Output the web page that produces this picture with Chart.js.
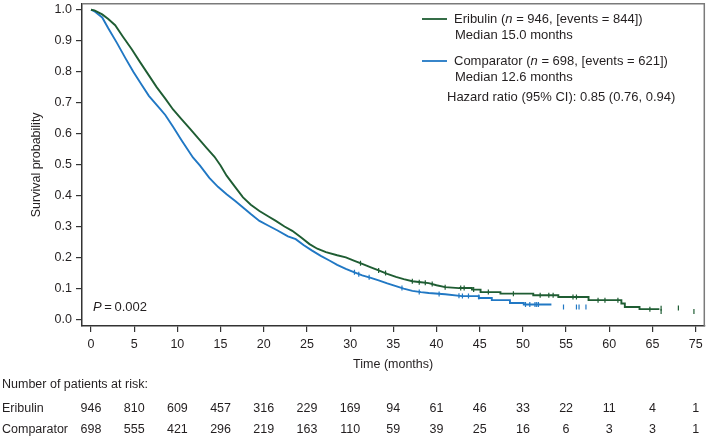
<!DOCTYPE html>
<html>
<head>
<meta charset="utf-8">
<script src="https://cdn.jsdelivr.net/npm/chart.js@4.4.1/dist/chart.umd.min.js"></script>
<style>
html,body{margin:0;padding:0;background:#fff;}
#wrap{width:708px;height:436px;}
</style>
</head>
<body>
<div id="wrap"><canvas id="c" width="708" height="436"></canvas></div>
<script>
// ---------- data ----------
const eribulinTime = [0, 0.4, 1.3, 2.0, 2.8, 3.7, 4.7, 5.7, 6.7, 7.6, 8.6, 9.5, 10.5, 11.5, 12.4, 13.4, 14.3, 15.0, 15.7, 16.7, 17.6, 18.5, 19.5, 20.5, 21.4, 22.4, 23.3, 24.3, 25.3, 26.2, 27.2, 28.5, 29.5, 30.5, 31.4, 32.4, 33.3, 34.3, 35.3, 36.2, 37.2, 38.2, 39.1, 40.0, 41.0, 42.6, 44.1, 44.1, 45.1, 45.1, 47.4, 47.4, 51.2, 51.2, 54.1, 54.1, 57.6, 57.6, 61.4, 61.4, 61.8, 61.8, 63.5, 63.5, 65.8];
const eribulinSurv = [1.0, 0.998, 0.985, 0.970, 0.950, 0.913, 0.873, 0.830, 0.788, 0.750, 0.713, 0.678, 0.646, 0.614, 0.585, 0.553, 0.525, 0.497, 0.464, 0.427, 0.394, 0.370, 0.350, 0.333, 0.318, 0.300, 0.286, 0.265, 0.243, 0.228, 0.217, 0.207, 0.200, 0.189, 0.179, 0.168, 0.158, 0.147, 0.137, 0.130, 0.123, 0.120, 0.117, 0.110, 0.104, 0.101, 0.101, 0.096, 0.096, 0.088, 0.088, 0.083, 0.083, 0.078, 0.078, 0.072, 0.072, 0.062, 0.062, 0.051, 0.051, 0.040, 0.040, 0.033, 0.033];

const comparatorTime = [0, 0.4, 1.3, 2.0, 3.0, 4.0, 4.9, 5.9, 6.7, 8.0, 8.6, 9.5, 10.5, 11.8, 12.6, 13.7, 14.7, 15.7, 16.7, 17.6, 18.5, 19.5, 20.5, 21.6, 22.8, 23.7, 24.6, 25.6, 26.6, 27.6, 28.5, 29.5, 30.5, 31.4, 32.4, 33.3, 34.3, 35.3, 36.2, 37.2, 38.2, 39.1, 41.0, 42.95, 44.9, 44.9, 46.4, 46.4, 48.5, 48.5, 50.1, 50.1, 53.3];
const comparatorSurv = [1.0, 0.995, 0.975, 0.940, 0.893, 0.843, 0.800, 0.756, 0.722, 0.680, 0.660, 0.622, 0.578, 0.523, 0.497, 0.457, 0.428, 0.404, 0.382, 0.361, 0.340, 0.318, 0.303, 0.287, 0.268, 0.259, 0.240, 0.222, 0.205, 0.190, 0.176, 0.163, 0.152, 0.142, 0.134, 0.126, 0.116, 0.107, 0.099, 0.092, 0.088, 0.085, 0.081, 0.075, 0.075, 0.069, 0.069, 0.062, 0.062, 0.053, 0.053, 0.048, 0.048];

const eribulinCensorTime = [31.2, 33.3, 34.1, 37.2, 38.0, 38.7, 39.5, 41.0, 42.8, 43.2, 44.3, 46.0, 48.9, 52.0, 53.0, 53.5, 55.8, 56.2, 58.7, 59.5, 61.0, 64.7, 66.0, 66.0, 68.0, 69.8];
const eribulinCensorSurv = [0.181, 0.158, 0.150, 0.123, 0.120, 0.118, 0.114, 0.104, 0.101, 0.101, 0.096, 0.088, 0.083, 0.078, 0.078, 0.078, 0.072, 0.072, 0.062, 0.062, 0.062, 0.033, 0.036, 0.025, 0.037, 0.025];
const comparatorCensorTime = [30.5, 31.0, 32.2, 36.0, 38.0, 40.3, 42.6, 43.0, 43.7, 44.9, 50.3, 50.8, 51.4, 51.6, 51.8, 54.7, 56.2, 56.5, 57.3];
const comparatorCensorSurv = [0.152, 0.146, 0.136, 0.101, 0.088, 0.082, 0.076, 0.075, 0.075, 0.072, 0.048, 0.048, 0.048, 0.048, 0.048, 0.040, 0.040, 0.040, 0.040];

const xTickValues = [0, 5, 10, 15, 20, 25, 30, 35, 40, 45, 50, 55, 60, 65, 70];
const xTickLabels = ['0', '5', '10', '15', '20', '25', '30', '35', '40', '45', '50', '55', '60', '65', '75'];
const yTickValues = [0, 0.1, 0.2, 0.3, 0.4, 0.5, 0.6, 0.7, 0.8, 0.9, 1.0];

const riskTimes = [0, 5, 10, 15, 20, 25, 30, 35, 40, 45, 50, 55, 60, 65, 70];
const eribulinAtRisk = [946, 810, 609, 457, 316, 229, 169, 94, 61, 46, 33, 22, 11, 4, 1];
const comparatorAtRisk = [698, 555, 421, 296, 219, 163, 110, 59, 39, 25, 16, 6, 3, 3, 1];

const seriesNames = ['Eribulin', 'Comparator'];
// ---------- styling ----------
const GREEN = '#1f5d33';
const BLUE = '#2178c4';
const TXT = '#231f20';
const AX = '#333333';
const FONT = '"Liberation Sans", Arial, Helvetica, sans-serif';
const FS = 12.5;
const LFS = 13;

Chart.defaults.font.family = FONT;
Chart.defaults.font.size = FS;
Chart.defaults.color = TXT;

const pts = (xs, ys) => xs.map((x, i) => ({x: x, y: ys[i]}));

function rich(ctx, x, y, parts, size) {
  for (const p of parts) {
    ctx.font = (p.it ? 'italic ' : '') + size + 'px ' + FONT;
    ctx.fillText(p.t, x, y);
    x += ctx.measureText(p.t).width;
  }
}

const annotations = {
  id: 'annotations',
  afterDraw(chart) {
    const ctx = chart.ctx;
    const a = chart.chartArea;
    const xs = chart.scales.x;
    ctx.save();
    // frame top and right
    ctx.strokeStyle = '#7a7a7a';
    ctx.lineWidth = 1.5;
    ctx.beginPath();
    ctx.moveTo(a.left, a.top);
    ctx.lineTo(a.right, a.top);
    ctx.lineTo(a.right, a.bottom);
    ctx.stroke();

    ctx.fillStyle = TXT;
    ctx.textBaseline = 'middle';
    ctx.textAlign = 'left';
    // legend
    ctx.lineWidth = 1.8;
    ctx.strokeStyle = GREEN;
    ctx.beginPath(); ctx.moveTo(422, 19); ctx.lineTo(447, 19); ctx.stroke();
    ctx.strokeStyle = BLUE;
    ctx.beginPath(); ctx.moveTo(422, 61); ctx.lineTo(447, 61); ctx.stroke();
    const es = ' ';
    const th = '\u2009';
    rich(ctx, 454, 19, [{t: seriesNames[0] + ' ('}, {t: 'n', it: true}, {t: es + '=' + es + '946, [events' + es + '=' + es + '844])'}], LFS);
    rich(ctx, 455, 35, [{t: 'Median 15.0 months'}], LFS);
    rich(ctx, 454, 61, [{t: seriesNames[1] + ' ('}, {t: 'n', it: true}, {t: es + '=' + es + '698, [events' + es + '=' + es + '621])'}], LFS);
    rich(ctx, 455, 77, [{t: 'Median 12.6 months'}], LFS);
    rich(ctx, 447, 97, [{t: 'Hazard ratio (95% CI): 0.85 (0.76, 0.94)'}], LFS);
    // p value
    rich(ctx, 93, 307, [{t: 'P', it: true}, {t: th + '=' + th + '0.002'}], LFS);

    // risk table
    ctx.font = FS + 'px ' + FONT;
    ctx.textAlign = 'left';
    ctx.fillText('Number of patients at risk:', 2, 385);
    ctx.fillText(seriesNames[0], 2, 409);
    ctx.fillText(seriesNames[1], 2, 430);
    ctx.textAlign = 'center';
    riskTimes.forEach((t, i) => {
      const px = xs.getPixelForValue(t);
      ctx.fillText(String(eribulinAtRisk[i]), px, 409);
      ctx.fillText(String(comparatorAtRisk[i]), px, 430);
    });
    ctx.restore();
  }
};

const censorStyle = (color) => ({
  showLine: false,
  pointStyle: 'line',
  rotation: 90,
  pointRadius: 2.5,
  pointHoverRadius: 2.5,
  pointBorderWidth: 1.2,
  borderColor: color,
  backgroundColor: color
});

new Chart(document.getElementById('c'), {
  type: 'line',
  data: {
    datasets: [
      {label: seriesNames[0], data: pts(eribulinTime, eribulinSurv), borderColor: GREEN, borderWidth: 1.9, pointRadius: 0, tension: 0, fill: false},
      {label: seriesNames[1], data: pts(comparatorTime, comparatorSurv), borderColor: BLUE, borderWidth: 1.9, pointRadius: 0, tension: 0, fill: false},
      Object.assign({label: 'c1', data: pts(eribulinCensorTime, eribulinCensorSurv)}, censorStyle(GREEN)),
      Object.assign({label: 'c2', data: pts(comparatorCensorTime, comparatorCensorSurv)}, censorStyle(BLUE))
    ]
  },
  options: {
    responsive: false,
    animation: false,
    devicePixelRatio: 1,
    layout: {padding: {top: 1, right: 2, left: 0, bottom: 0}},
    plugins: {legend: {display: false}, tooltip: {enabled: false}},
    scales: {
      x: {
        type: 'linear',
        min: -1.04,
        max: 71,
        afterBuildTicks: s => { s.ticks = xTickValues.map(v => ({value: v})); },
        afterFit: s => { s.height = 110; s.paddingLeft = 0; s.paddingRight = 0; },
        ticks: {callback: (v, i) => xTickLabels[i], padding: 5, maxRotation: 0, autoSkip: false, color: TXT, font: {size: FS}},
        grid: {drawOnChartArea: false, drawTicks: true, tickLength: 6, color: AX, lineWidth: 1.2},
        border: {display: true, color: AX, width: 1.5},
        title: {display: true, text: 'Time (months)', color: TXT, font: {size: FS}, padding: {top: 63.5, bottom: 63.5}}
      },
      y: {
        type: 'linear',
        min: -0.0215,
        max: 1.0195,
        afterBuildTicks: s => { s.ticks = yTickValues.map(v => ({value: v})); },
        afterFit: s => { s.width = 82; s.paddingTop = 0; s.paddingBottom = 0; },
        ticks: {callback: v => Number(v).toFixed(1), padding: 4, color: TXT, font: {size: FS}},
        grid: {drawOnChartArea: false, drawTicks: true, tickLength: 6, color: AX, lineWidth: 1.2},
        border: {display: true, color: AX, width: 1.5},
        title: {display: true, text: 'Survival probability', color: TXT, font: {size: FS}, padding: {top: 29, bottom: 0}}
      }
    }
  },
  plugins: [annotations]
});
</script>
</body>
</html>
